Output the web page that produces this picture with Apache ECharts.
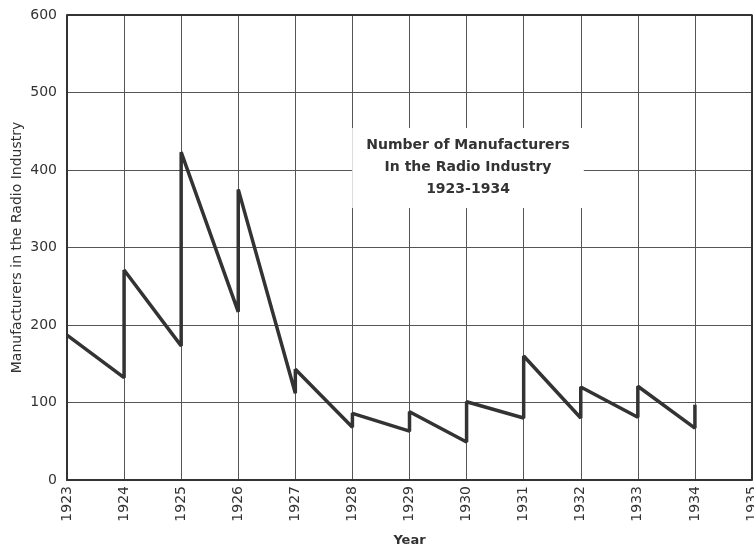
<!DOCTYPE html>
<html>
<head>
<meta charset="utf-8">
<script src="https://cdn.jsdelivr.net/npm/echarts@6/dist/echarts.min.js"></script>
<style>
  html, body { margin: 0; padding: 0; background: #fff; }
  #chart { width: 754px; height: 547px; }
</style>
</head>
<body>
<div id="chart"></div>
<script>
// Sawtooth: each year the count drops to "low", then jumps to "high"
const years = [1923, 1924, 1925, 1926, 1927, 1928, 1929, 1930, 1931, 1932, 1933, 1934];
const lowValues = [null, 132, 173, 217, 112, 68, 63, 49, 80, 80, 81, 67];
const highValues = [187, 271, 423, 375, 143, 86, 88, 101, 160, 120, 121, 97];

const ink = "#333";

// build the point list: low then high at every year
const points = [];
years.forEach((y, i) => {
  if (lowValues[i] !== null) points.push([y, lowValues[i]]);
  points.push([y, highValues[i]]);
});

const chart = echarts.init(document.getElementById("chart"));

chart.setOption({
  animation: false,
  textStyle: { fontFamily: "DejaVu Sans" },
  grid: { left: 67, right: 2, top: 15, bottom: 67, containLabel: false, outerBoundsMode: "none" },
  graphic: [
    {
      // caption on a white box that hides the grid behind it, as in the original
      type: "text",
      x: 468,
      y: 128,
      z: 100,
      style: {
        text: "Number of Manufacturers\nIn the Radio Industry\n1923-1934",
        align: "center",
        verticalAlign: "top",
        fill: ink,
        font: "bold 14px 'DejaVu Sans'",
        lineHeight: 22,
        backgroundColor: "#fff",
        padding: [6, 14, 8, 14],
      },
    },
  ],
  xAxis: {
    type: "value",
    min: 1923,
    max: 1935,
    interval: 1,
    name: "Year",
    nameLocation: "middle",
    nameGap: 54,
    nameMoveOverlap: false,
    nameTextStyle: { fontSize: 13, fontWeight: "bold", color: ink },
    axisLine: { lineStyle: { color: ink, width: 2 } },
    axisTick: { show: false },
    axisLabel: {
      rotate: 90,
      color: ink,
      fontSize: 14,
      margin: 6,
      formatter: (v) => String(v),
    },
    splitLine: { show: true, lineStyle: { color: "#555", width: 1 } },
  },
  yAxis: {
    type: "value",
    min: 0,
    max: 600,
    interval: 100,
    name: "Manufacturers in the Radio Industry",
    nameLocation: "middle",
    nameGap: 43,
    nameMoveOverlap: false,
    nameTextStyle: { fontSize: 14, color: ink },
    axisLine: { show: true, lineStyle: { color: ink, width: 2 } },
    axisTick: { show: false },
    axisLabel: { color: ink, fontSize: 14, margin: 10 },
    splitLine: { show: true, lineStyle: { color: "#555", width: 1 } },
  },
  series: [
    {
      type: "line",
      data: points,
      symbol: "none",
      lineStyle: { color: ink, width: 3.5 },
      z: 5,
    },
    {
      // border on top and right of the plot area
      type: "line",
      data: [[1923, 600], [1935, 600], [1935, 0]],
      symbol: "none",
      silent: true,
      lineStyle: { color: ink, width: 2 },
    },
  ],
});
</script>
</body>
</html>
